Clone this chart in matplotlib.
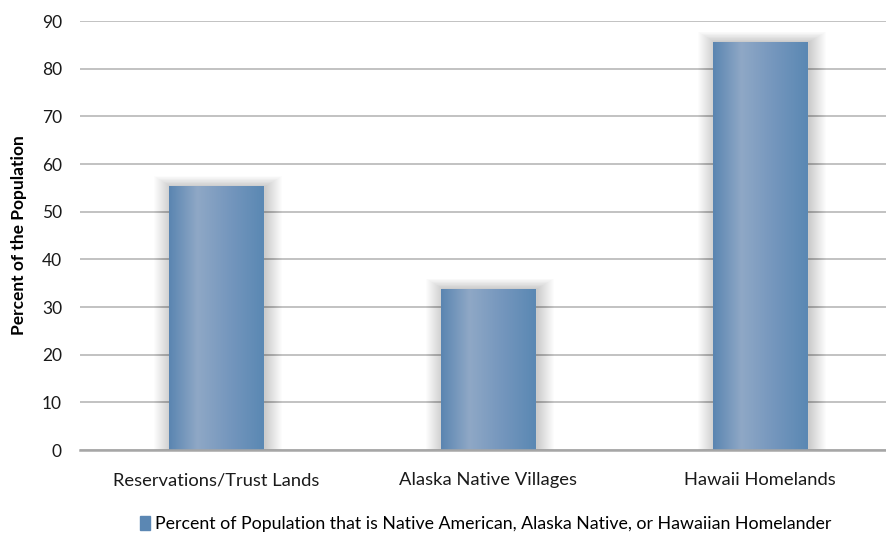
import matplotlib.pyplot as plt
import numpy as np
from matplotlib.colors import LinearSegmentedColormap
from matplotlib.patches import Rectangle

plt.rcParams['font.family'] = ['Lato', 'DejaVu Sans']

categories = ['Reservations/Trust Lands', 'Alaska Native Villages', 'Hawaii Homelands']
values = [55.3, 33.8, 85.6]
series_name = 'Percent of Population that is Native American, Alaska Native, or Hawaiian Homelander'

fig = plt.figure(figsize=(8.86, 5.33), dpi=100)
ax = fig.add_axes([0.0903, 0.1557, 0.9097, 0.8049])

x = np.arange(len(categories))
bars = ax.bar(x, values, width=0.346, color='#5b87b3', zorder=3)

# horizontal gradient fill inside each bar
grad = LinearSegmentedColormap.from_list(
    'g', [(0, '#5a85b1'), (0.3, '#8fa8c6'), (0.65, '#7496bd'), (1, '#5a88b3')])
ramp = np.linspace(0, 1, 256).reshape(1, -1)
px_x = 1 / 272.0
px_y = 90 / 429.0
for b in bars:
    x0, w, h = b.get_x(), b.get_width(), b.get_height()
    im = ax.imshow(ramp, cmap=grad, aspect='auto', extent=(x0, x0 + w, 0, h),
                   zorder=4, interpolation='bilinear')
    im.set_clip_path(b)
    # soft drop shadow
    for k in range(1, 18):
        ax.add_patch(Rectangle((x0 - k * px_x + 2 * px_x, 0),
                               w + 2 * k * px_x, h + k * px_y * 0.6,
                               facecolor='black', edgecolor='none',
                               alpha=0.01, zorder=2))

ax.set_xlim(-0.5, 2.463)
ax.set_ylim(0, 90)
ax.set_yticks(np.arange(0, 91, 10))
ax.set_xticks(x)
ax.set_xticklabels(categories, fontsize=13.2)
ax.tick_params(axis='both', length=0, colors='#1a1a1a')
ax.tick_params(axis='y', pad=13, labelsize=12.5)
ax.tick_params(axis='x', pad=16)
ax.yaxis.grid(True, color='#bdbdbd', linewidth=1.3, zorder=0)
ax.set_axisbelow(True)
for s in ['top', 'right', 'left']:
    ax.spines[s].set_visible(False)
ax.spines['bottom'].set_color('#a6a6a6')
ax.spines['bottom'].set_linewidth(1.8)
ax.spines['bottom'].set_zorder(5)

ax.set_ylabel('Percent of the Population', fontsize=12.5, fontweight='bold')
ax.yaxis.set_label_coords(-0.066, 0.5)

fig.legend([Rectangle((0, 0), 1, 1, color='#5b87b3')], [series_name],
           loc='center', bbox_to_anchor=(486 / 886, 1 - 524 / 533),
           frameon=False, fontsize=12.8, handlelength=0.55, handleheight=0.8,
           handletextpad=0.3)

fig.savefig('out.png', dpi=100)
